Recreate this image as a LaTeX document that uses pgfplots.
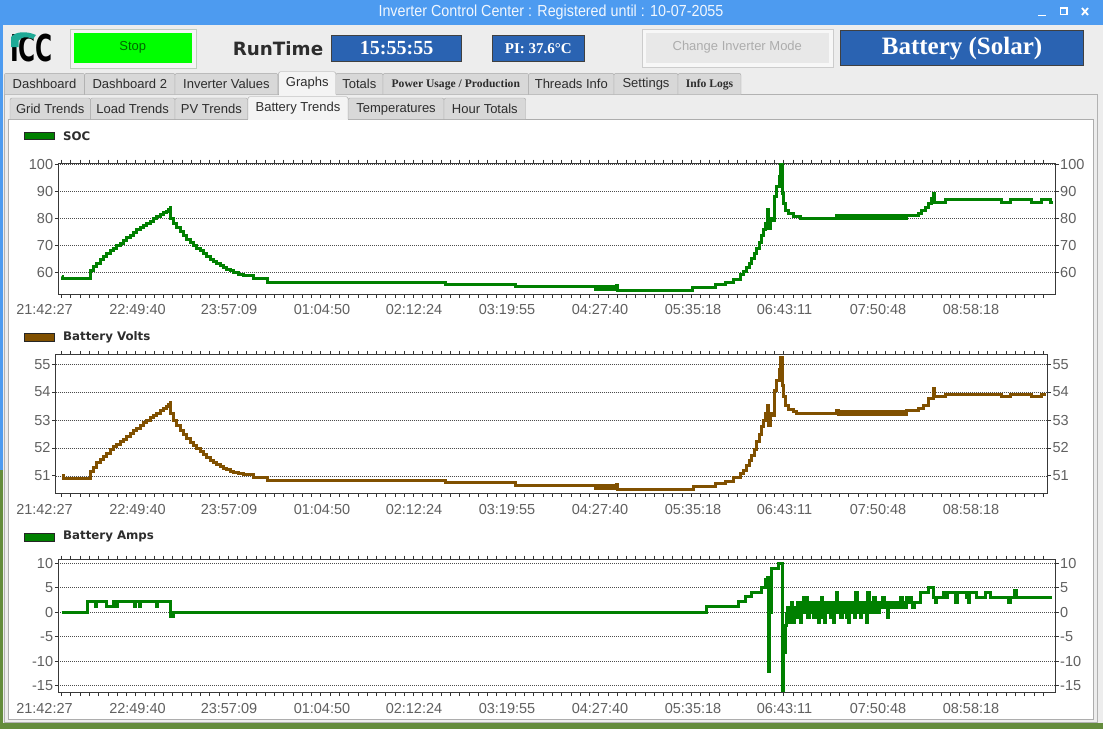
\documentclass[border=0pt]{standalone}
\usepackage{fontspec}
\setmainfont{Liberation Sans}
\newfontfamily\djv{DejaVu Sans}
\newfontfamily\lser{Liberation Serif}
\usepackage{graphicx}
\usepackage{pgfplots}
\pgfplotsset{compat=1.18}

\definecolor{titleblue}{RGB}{77,155,240}
\definecolor{winbg}{RGB}{237,237,237}
\definecolor{boxblue}{RGB}{42,99,178}
\definecolor{socgreen}{RGB}{0,128,0}
\definecolor{voltbrown}{RGB}{128,80,0}
\definecolor{ticklab}{RGB}{96,96,96}
\definecolor{tabfill}{RGB}{216,216,216}
\definecolor{tabsel}{RGB}{244,244,244}
\definecolor{tabborder}{RGB}{168,168,168}
\definecolor{stopgreen}{RGB}{0,255,0}
\definecolor{iccteal}{RGB}{30,170,150}
\definecolor{grass}{RGB}{100,140,60}
\definecolor{txt}{RGB}{45,45,45}

\newcommand\tabf{\fontsize{13}{15}\selectfont}
\newcommand\tickf{\fontsize{14.5}{16}\selectfont}
\newcommand\legf{\djv\bfseries\fontsize{11.8}{13}\selectfont}

\pgfplotsset{
  chart/.style={
    scale only axis, anchor=south west,
    axis line style={draw=black!78, line width=1pt},
    tick align=outside,
    major tick length=3.5pt, minor tick length=3.5pt,
    tick style={black!80, line width=1pt},
    major x tick style={draw=none},
    xtick={64.5,157.5,249,342,434,527,620,713,804.5,898,991},
    xticklabels={21:42:27,22:49:40,23:57:09,01:04:50,02:12:24,03:19:55,04:27:40,05:35:18,06:43:11,07:50:48,08:58:18},
    minor xtick={61.7,70.96,...,1044},
    xticklabel style={xshift=-20pt, font=\tickf, text=ticklab, inner sep=0pt, yshift=-7pt},
    yticklabel style={font=\tickf, text=ticklab, inner sep=1.5pt},
    ymajorgrids, grid style={black!70, dash pattern=on 1pt off 1pt, line width=0.8pt},
  },
  rightax/.style={
    scale only axis, anchor=south west, hide x axis,
    axis line style={draw=none},
    tick align=outside, major tick length=3.5pt,
    tick style={black!80, line width=1pt},
    ytick pos=right, yticklabel pos=right,
    yticklabel style={font=\tickf, text=ticklab, inner sep=1.5pt},
  },
  dataline/.style={const plot, line width=3pt},
}

\begin{document}
\begin{tikzpicture}
\path[use as bounding box] (0,0) rectangle (1103pt,-729pt);
\begin{scope}[x=1pt,y=-1pt]
  % window background
  \fill[winbg] (0,0) rectangle (1103,729);
  \fill[grass] (0,723) rectangle (1103,729);
  \fill[titleblue] (0,0) rectangle (3,470);
  \fill[grass] (0,470) rectangle (3,729);
  % title bar
  \fill[titleblue] (0,0) rectangle (1103,24.5);
  \node[text=white!92!titleblue, font=\fontsize{16}{18}\selectfont] at (551,12.5) {\scalebox{0.895}[1]{Inverter Control Center : Registered until : 10-07-2055}};
  \draw[white, line width=1.6pt] (1038,15.5) -- (1046,15.5);
  \draw[white, line width=1.2pt] (1060.5,8) rectangle (1067,14.5);
  \draw[white, line width=1.8pt] (1082,8) -- (1088,15) (1082,15) -- (1088,8);
  % logo
  \node[anchor=west, inner sep=0pt, font=\djv\bfseries\fontsize{37}{40}\selectfont, text=black] at (10,48.5) {\scalebox{0.63}[1]{ICC}};
  \fill[iccteal] (11,47) -- (11,37) .. controls (16,31) and (27,31) .. (36,35) -- (33,39) .. controls (26,36) and (21,37) .. (18.5,41) -- (18.5,47) -- cycle;
  % stop button
  \filldraw[fill=white!96!black, draw=green!20!black!25] (70.4,28.7) rectangle (195.7,67.7);
  \fill[stopgreen] (74,33) rectangle (191.5,62.5);
  \node[text=green!40!black, font=\fontsize{13}{15}\selectfont] at (132.7,47.8) {Stop};
  % runtime
  \node[text=txt, font=\djv\bfseries\fontsize{18.3}{20}\selectfont] at (278,49) {RunTime};
  \filldraw[fill=boxblue, draw=black!75, line width=1pt] (331.4,35.5) rectangle (461.8,61.7);
  \node[text=white, font=\lser\bfseries\fontsize{20}{22}\selectfont] at (396.6,48.3) {15:55:55};
  \filldraw[fill=boxblue, draw=black!75, line width=1pt] (492,35.5) rectangle (584.6,61.7);
  \node[text=white, font=\lser\bfseries\fontsize{15}{17}\selectfont] at (538.3,48.5) {PI: 37.6°C};
  % change inverter mode
  \filldraw[fill=white!97!black, draw=black!20] (641.8,28.7) rectangle (832.9,66.7);
  \fill[white!91!black] (646,33) rectangle (828.7,62.5);
  \node[text=black!32, font=\fontsize{13}{15}\selectfont] at (737.3,47.5) {Change Inverter Mode};
  % battery solar
  \filldraw[fill=boxblue, draw=black!75, line width=1pt] (840.7,30.7) rectangle (1083,65);
  \node[text=white, font=\lser\bfseries\fontsize{25}{27}\selectfont] at (962,48.5) {Battery (Solar)};
  % tab row 1 panel
  \filldraw[fill=winbg, draw=black!30] (4,94.3) rectangle (1097.5,722);
  \foreach \a/\b/\t in {4.3/84.6/Dashboard, 84.6/175/Dashboard 2, 175/277.8/Inverter Values, 335.7/383/Totals, 528.6/614/Threads Info, 614/678/Settings}{
    \filldraw[fill=tabfill, draw=tabborder, rounded corners=2pt] (\a,94.3) -- (\a,73.3) -- (\b,73.3) -- (\b,94.3);
    \node[text=txt, font=\tabf] at ({(\a+\b)/2},84.3) {\t};
  }
  \filldraw[fill=tabfill, draw=tabborder, rounded corners=2pt] (383,94.3) -- (383,73.3) -- (528.6,73.3) -- (528.6,94.3);
  \node[text=txt, font=\lser\bfseries\fontsize{11.6}{13}\selectfont] at (455.8,84.8) {Power Usage / Production};
  \filldraw[fill=tabfill, draw=tabborder, rounded corners=2pt] (678,94.3) -- (678,73.3) -- (741,73.3) -- (741,94.3);
  \node[text=txt, font=\lser\bfseries\fontsize{11.6}{13}\selectfont] at (709.5,84.8) {Info Logs};
  \fill[tabsel] (278.6,71.7) rectangle (335.7,95.5);
  \draw[tabborder, rounded corners=2pt] (278.6,94.3) -- (278.6,71.7) -- (335.7,71.7) -- (335.7,94.3);
  \node[text=txt, font=\tabf] at (307.2,83.3) {Graphs};
  % tab row 2 panel
  \filldraw[fill=white, draw=black!32] (8.5,119) rectangle (1093,719);
  \foreach \a/\b/\t in {10/90.4/Grid Trends, 90.4/175/Load Trends, 175/247.8/PV Trends, 348/444/Temperatures, 444/525.7/Hour Totals}{
    \filldraw[fill=tabfill, draw=tabborder, rounded corners=2pt] (\a,119) -- (\a,98) -- (\b,98) -- (\b,119);
    \node[text=txt, font=\tabf] at ({(\a+\b)/2},109) {\t};
  }
  \fill[tabsel] (248,96.7) rectangle (348,120);
  \draw[tabborder, rounded corners=2pt] (248,119) -- (248,96.7) -- (348,96.7) -- (348,119);
  \node[text=txt, font=\tabf] at (298,108) {Battery Trends};
  % legends
  \filldraw[fill=socgreen, draw=black!85, line width=0.8pt] (24.3,132) rectangle (54.3,139.3);
  \node[anchor=west, inner sep=0pt, text=txt, font=\legf] at (63,135.7) {SOC};
  \filldraw[fill=voltbrown, draw=black!85, line width=0.8pt] (24.3,333.7) rectangle (54.3,341.3);
  \node[anchor=west, inner sep=0pt, text=txt, font=\legf] at (63,337.5) {Battery Volts};
  \filldraw[fill=socgreen, draw=black!85, line width=0.8pt] (24.3,533.5) rectangle (54.3,541);
  \node[anchor=west, inner sep=0pt, text=txt, font=\legf] at (63,536.5) {Battery Amps};
\end{scope}

% ---------------- SOC ----------------
\begin{axis}[chart, at={(58.3pt,-294pt)}, width=996.7pt, height=131pt,
  xmin=58.3, xmax=1055, ymin=51.96, ymax=100.48,
  ytick={60,70,80,90,100}, yticklabels={60,70,80,90,100}]
\addplot[dataline, socgreen] coordinates {
(61.7,58.4)(62.7,57.7)(88.3,57.7)(90.7,60.5)(93.7,62.0)(96.7,63.3)(100,64.6)(103.3,65.8)(106.7,66.9)(110,67.9)(113.3,68.9)(116.7,69.9)(120,70.8)(123.3,71.7)(126.7,72.8)(130,73.8)(133.3,74.8)(136.7,75.7)(140,76.5)(143.3,77.3)(146.7,78.2)(150,79.0)(153.3,79.8)(156.7,80.6)(160,81.4)(163.3,82.1)(166,82.7)(168.3,83.3)(170.3,84.1)(170.9,80.0)(173.3,78.1)(176.7,76.5)(180,75.1)(183.3,73.6)(186.7,72.2)(190,71.0)(193.3,69.8)(196.7,68.8)(200,67.9)(203.3,66.8)(206.7,65.8)(210,64.9)(213.3,64.0)(216.7,63.2)(220,62.5)(223.3,61.8)(226.7,61.2)(230,60.5)(233.3,59.9)(238,59.3)(243.3,58.8)(253.3,57.7)(267.3,56.4)(445,55.6)(515,54.8)
(595,53.6)(596.2,54.8)(597.4,53.6)(598.6,54.8)(599.8,53.6)(601,54.8)(602.2,53.6)(603.4,54.8)(604.6,53.6)(605.8,54.8)(607,53.6)(608.2,54.8)(609.4,53.6)(610.6,54.8)(611.8,53.6)(613,54.8)(614.2,53.6)(616.5,55.0)(617.5,53.3)
(692.7,54.2)(715,55.3)(725,56.3)(733,57.5)(740,59.1)(743.3,60.3)(746.7,61.9)(749,63.3)(751.7,65)(754,66.8)(756.7,68.7)(759,71)(761.7,73.6)(763.3,75.8)(765,78)(767.3,83.2)(768.3,76.1)(770,79.8)(772.3,79.2)(774,87.9)(776.7,91.6)(779.3,95.3)(780,100)(782.3,89.1)(783.5,85.5)(785,82.9)(788.3,81.7)(793.3,80.8)(800,80.1)(836.7,81.1)(838,80.1)
(840,81.1)(842,80.1)(844,81.1)(846,80.1)(848,81.1)(850,80.1)(852,81.1)(854,80.1)(856,81.1)(858,80.1)(860,81.1)(862,80.1)(864,81.1)(866,80.1)(868,81.1)(870,80.1)(872,81.1)(874,80.1)(876,81.1)(878,80.1)(880,81.1)(882,80.1)(884,81.1)(886,80.1)(888,81.1)(890,80.1)(892,81.1)(894,80.1)(896,81.1)(898,80.1)(900,81.1)(902,80.1)(904,81.1)(906,80.1)
(906.7,81.1)(918.3,81.9)(921,82.9)(925,84)(928.3,85.4)(931,87.2)(933.3,89.1)(934.5,86)(945,86.9)(1001.7,86)(1010,86.9)(1031.7,86)(1041.7,86.9)(1050,86)(1053,86)
};
\end{axis}
\begin{axis}[rightax, at={(58.3pt,-294pt)}, width=996.7pt, height=131pt,
  xmin=58.3, xmax=1055, ymin=51.96, ymax=100.48,
  ytick={60,70,80,90,100}, yticklabels={60,70,80,90,100}]
\end{axis}

% ---------------- Volts ----------------
\begin{axis}[chart, at={(55.7pt,-493.3pt)}, width=991.6pt, height=139pt,
  xmin=55.7, xmax=1047.3, ymin=50.38, ymax=55.35,
  ytick={51,52,53,54,55}, yticklabels={51,52,53,54,55}]
\addplot[dataline, voltbrown] coordinates {
(62,51.0)(63,50.92)(87.7,50.92)(90,51.15)(93.3,51.32)(96.7,51.48)(100,51.6)(103.3,51.71)(106.7,51.82)(110,51.93)(113.3,52.04)(116.7,52.14)(120,52.23)(123.3,52.32)(126.7,52.42)(130,52.52)(133.3,52.61)(136.7,52.70)(140,52.81)(143.3,52.92)(146.7,53.0)(150,53.08)(153.3,53.16)(156.7,53.24)(160,53.33)(163.3,53.42)(166,53.48)(168.3,53.54)(170.3,53.63)(170.9,53.24)(173.3,53.0)(176.7,52.82)(180,52.64)(183.3,52.5)(186.7,52.35)(190,52.2)(193.3,52.08)(196.7,51.97)(200,51.87)(203.3,51.76)(206.7,51.65)(210,51.57)(213.3,51.49)(216.7,51.4)(220,51.33)(223.3,51.28)(226.7,51.24)(230,51.17)(233.3,51.12)(238,51.08)(243.3,51.04)(253.3,50.95)(267.3,50.83)(445,50.75)(515,50.66)
(595,50.55)(596.2,50.66)(597.4,50.55)(598.6,50.66)(599.8,50.55)(601,50.66)(602.2,50.55)(603.4,50.66)(604.6,50.55)(605.8,50.66)(607,50.55)(608.2,50.66)(609.4,50.55)(610.6,50.66)(611.8,50.55)(613,50.66)(614.2,50.55)(616.5,50.68)(617.5,50.53)
(693.3,50.61)(715,50.73)(725,50.82)(733.3,50.93)(740,51.08)(743.3,51.2)(746.7,51.38)(749,51.55)(751.7,51.74)(754,51.95)(756.7,52.22)(759,52.5)(761.7,52.76)(763.3,53.0)(765,53.23)(767.3,53.53)(768.3,52.81)(770,53.23)(772.3,53.17)(774,54.07)(776.7,54.43)(779.3,54.79)(780,55.23)(782.3,54.25)(783.5,53.85)(785,53.53)(788.3,53.38)(793.3,53.29)(796,53.23)(836.7,53.33)(838,53.21)
(840,53.32)(842,53.21)(844,53.32)(846,53.21)(848,53.32)(850,53.21)(852,53.32)(854,53.21)(856,53.32)(858,53.21)(860,53.32)(862,53.21)(864,53.32)(866,53.21)(868,53.32)(870,53.21)(872,53.32)(874,53.21)(876,53.32)(878,53.21)(880,53.32)(882,53.21)(884,53.32)(886,53.21)(888,53.32)(890,53.21)(892,53.32)(894,53.21)(896,53.32)(898,53.21)(900,53.32)(902,53.21)(904,53.32)(906,53.21)
(906.7,53.33)(918.3,53.4)(923.3,53.53)(928.3,53.77)(933.3,54.13)(934.5,53.83)(945,53.93)(1001.7,53.83)(1010,53.93)(1031.7,53.83)(1041.7,53.93)(1046,53.93)
};
\end{axis}
\begin{axis}[rightax, at={(55.7pt,-493.3pt)}, width=991.6pt, height=139pt,
  xmin=55.7, xmax=1047.3, ymin=50.38, ymax=55.35,
  ytick={51,52,53,54,55}, yticklabels={51,52,53,54,55}]
\end{axis}

% ---------------- Amps ----------------
\begin{axis}[chart, at={(58.3pt,-692.7pt)}, width=996.7pt, height=133.7pt,
  xmin=58.3, xmax=1055, ymin=-16.43, ymax=10.88,
  ytick={-15,-10,-5,0,5,10}, yticklabels={-15,-10,-5,0,5,10}]
\addplot[dataline, socgreen] coordinates {
(61.7,0)(87.7,2.1)(95,1.1)(96.7,2.1)(106.7,1.1)(113.3,2.1)(116.3,1.1)(117.7,2.1)(134.5,1.1)(135.8,2.1)(139.5,1.1)(140.8,2.1)(156.3,1.1)(157.6,2.1)(170.3,-0.9)(173.3,0)(706.7,1.1)(738.3,2.2)(745,3.2)(751.7,4.0)(761.7,5.1)(765,6.6)(767.3,7.2)(768.3,-12.1)(769.5,0)(771.7,9.0)(778.3,10.0)(782.3,-16.0)(783.3,-8.2)(785,-2.7)(786.7,-0.3)(787.7,1)
(788,1)(789.5,-2)(791,2)(792.5,-2)(794,1)(795.5,-1)(797,2)(798.5,0)(800,-2)(801.5,2)(803,3)(804.5,0)(806,3)(807.5,-1)(809,2)(810.5,0)(812,2)(813.5,-1)(815,2)(816.5,0)(818,-2)(819.5,2)(821,3)(822.5,-1)(824,-2)(825.5,2)(827,0)(828.5,2)(830,-1)(831.5,2)(833,-2)(834.5,1)(836,4)(837.5,0)(839,2)(840.5,-1)(842,2)(843.5,0)(845,2)(846.5,-1)(848,-2)(849.5,2)(851,0)(852.5,2)(854,-1)(855.5,4)(857,0)(858.5,2)(860,-1)(861.5,2)(863,0)(864.5,2)(866,-2)(867.5,4)(869,0)(870.5,2)(872,0)(873.5,3)(875,0)(876.5,2)(878,0)(879.5,2)(881,1)(882.5,3)(884,1)(885.5,2)(887,-1)(888.5,2)(890,1)(891.5,2)(893,1)(894.5,2)(896,1)(897.5,2)(899,1)(900.5,3)(902,1)(903.5,2)(905,1)(906.5,3)(908,2)(909.5,3)(911,2)(912.5,1)(914,2)
(916.7,2)(920,4)(928,5)(933.3,3)(935,2)(936,3)(943,4)(945,3)(947,4)(955.7,2)(957,4)(966,3)(968,2)(969,4)(976.7,3)(985,4)(990,3)(1008,2)(1010,3)(1014.5,4.5)(1016,3)(1052,3)
};
\end{axis}
\begin{axis}[rightax, at={(58.3pt,-692.7pt)}, width=996.7pt, height=133.7pt,
  xmin=58.3, xmax=1055, ymin=-16.43, ymax=10.88,
  ytick={-15,-10,-5,0,5,10}, yticklabels={-15,-10,-5,0,5,10}]
\end{axis}
\end{tikzpicture}
\end{document}
